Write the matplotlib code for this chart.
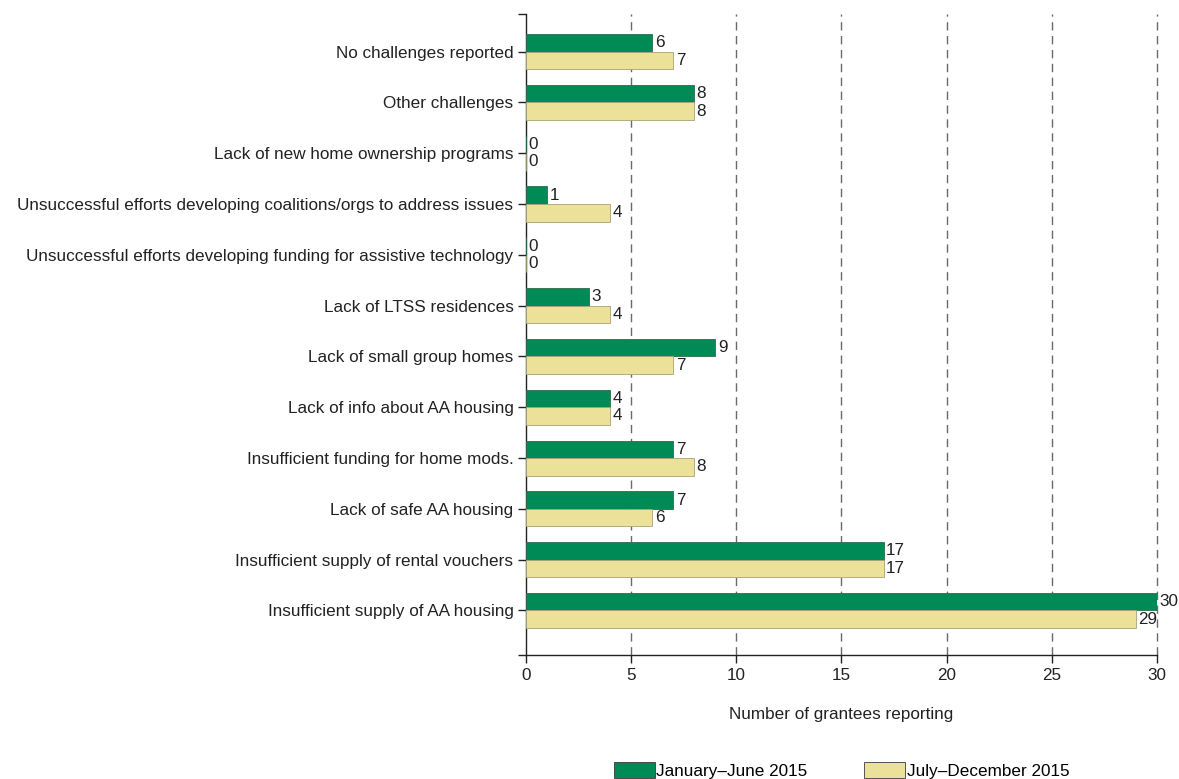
import matplotlib
matplotlib.use('Agg')

import numpy as np
import matplotlib.pyplot as plt

# categories listed bottom to top
categories = [
    "Insufficient supply of AA housing",
    "Insufficient supply of rental vouchers",
    "Lack of safe AA housing",
    "Insufficient funding for home mods.",
    "Lack of info about AA housing",
    "Lack of small group homes",
    "Lack of LTSS residences",
    "Unsuccessful efforts developing funding for assistive technology",
    "Unsuccessful efforts developing coalitions/orgs to address issues",
    "Lack of new home ownership programs",
    "Other challenges",
    "No challenges reported",
]
jan_jun = [30, 17, 7, 7, 4, 9, 3, 0, 1, 0, 8, 6]
jul_dec = [29, 17, 6, 8, 4, 7, 4, 0, 4, 0, 8, 7]
series_names = ["January\u2013June 2015", "July\u2013December 2015"]

GREEN = '#008a55'
YELLOW = '#ebe199'
FS = 12.3

plt.rcParams['font.family'] = ['Liberation Sans', 'DejaVu Sans']


def main():
    fig = plt.figure(figsize=(11.79, 7.79), dpi=100)
    ax = fig.add_axes([0.4461, 0.159, 0.9813 - 0.4461, 0.982 - 0.159])

    y = np.arange(len(categories))
    h = 0.345
    b1 = ax.barh(y + h / 2, jan_jun, height=h, color=GREEN,
                 edgecolor='#2f6b4a', linewidth=0.6, label=series_names[0], zorder=3)
    b2 = ax.barh(y - h / 2, jul_dec, height=h, color=YELLOW,
                 edgecolor='#a8a27a', linewidth=0.6, label=series_names[1], zorder=3)

    for bars, vals in ((b1, jan_jun), (b2, jul_dec)):
        for rect, v in zip(bars, vals):
            ax.text(v + 0.12, rect.get_y() + rect.get_height() / 2, str(v),
                    ha='left', va='center', fontsize=FS, color='#222222',
                    clip_on=False, zorder=4)

    ax.set_xlim(0, 30)
    ax.set_ylim(-0.88, 11.74)
    ax.set_xticks(np.arange(0, 31, 5))
    ax.set_yticks(y)
    ax.set_yticklabels(categories)
    ax.set_yticks([-0.88, 11.74], minor=True)
    ax.tick_params(axis='y', which='both', length=6, width=1, labelsize=FS,
                   pad=3, colors='#222222')
    ax.tick_params(axis='x', length=6, width=1, labelsize=FS, colors='#222222')

    for x in range(5, 31, 5):
        ax.axvline(x, color='#6a6a6a', linestyle=(0, (6, 4)), linewidth=1,
                   zorder=1, clip_on=False)

    for s in ('top', 'right'):
        ax.spines[s].set_visible(False)
    for s in ('left', 'bottom'):
        ax.spines[s].set_color('#222222')
        ax.spines[s].set_linewidth(1)

    ax.set_xlabel("Number of grantees reporting", fontsize=FS, labelpad=17,
                  color='#222222')

    leg = ax.legend(loc='upper center', bbox_to_anchor=(0.5, -0.148), ncol=2,
                    frameon=False, fontsize=FS, handlelength=2.4, handleheight=1.1,
                    handletextpad=0.1, columnspacing=3.3, borderpad=0.2)
    for p in leg.get_patches():
        p.set_edgecolor('#3a3a3a')

    fig.savefig('out.png', dpi=100)
    plt.close(fig)


if __name__ == "__main__":
    main()
